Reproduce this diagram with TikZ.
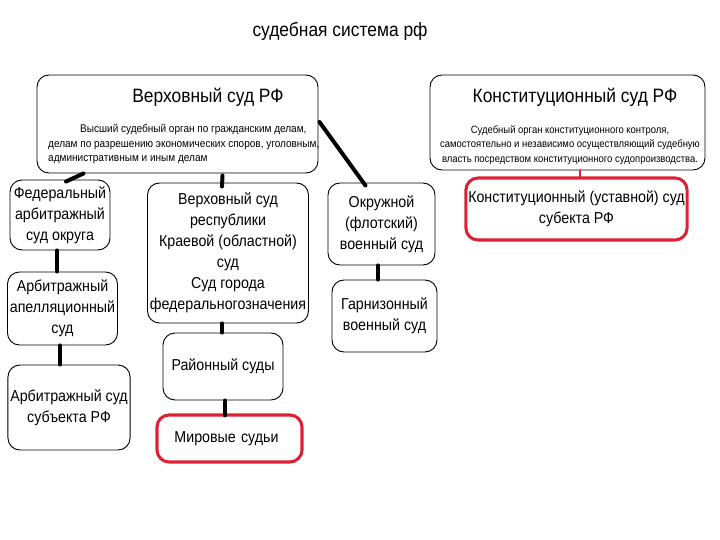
\documentclass[tikz,border=0pt]{standalone}
\usepackage{fontspec}
\setmainfont[FakeStretch=0.9]{Liberation Sans}
\usepackage{tikz}
\usetikzlibrary{calc}
\definecolor{courtred}{RGB}{222,32,52}

\begin{document}
\begin{tikzpicture}[x=0.03cm,y=-0.03cm,
	court/.style={draw,rounded corners=0.36cm,line width=0.8pt,inner sep=2pt,align=center,
		font=\fontsize{13.5}{18}\selectfont},
	redcourt/.style={court,draw=courtred,line width=2.6pt},
	link/.style={line width=3.4pt,line cap=round}]

	% all positions are given in pixels of the 720 x 540 page
	\useasboundingbox (0,0) rectangle (720,540);

	\node (title) at (340,31) {\fontsize{16.5}{18}\selectfont судебная система рф};

	% top row: the two highest courts
	\node[court,minimum width=8.43cm,minimum height=2.94cm] (sup) at (177.5,124) {};
	\node (sup head) at (208,97) {\fontsize{16.5}{18}\selectfont Верховный суд РФ};
	\node[anchor=north west,align=left,inner sep=0pt,font=\fontsize{9.5}{12.4}\selectfont] (sup text) at (48,124)
		{\hspace*{0.96cm}Высший судебный орган по гражданским делам,\\
		делам по разрешению экономических споров, уголовным,\\
		административным и иным делам};

	\node[court,minimum width=8.25cm,minimum height=2.85cm] (konst) at (567.5,122.5) {};
	\node (konst head) at (575,97) {\fontsize{16.5}{18}\selectfont Конституционный суд РФ};
	\node[anchor=north,align=center,inner sep=0pt,font=\fontsize{9}{12.4}\selectfont] (konst text) at (570,125)
		{Судебный орган конституционного контроля,\\
		самостоятельно и независимо осуществляющий судебную\\
		власть посредством конституционного судопроизводства.};

	% arbitration branch
	\node[court,minimum width=3.0cm,minimum height=2.1cm] (fedarb) at (60,215) {Федеральный\\арбитражный\\суд округа};
	\node[court,minimum width=3.15cm,minimum height=2.19cm] (arbapp) at (62.5,308.5) {Арбитражный\\апелляционный\\суд};
	\node[court,minimum width=3.66cm,minimum height=2.55cm] (arbsub) at (69,407.5) {Арбитражный суд\\субъекта РФ};

	% general jurisdiction branch
	\node[court,minimum width=4.8cm,minimum height=4.2cm] (resp) at (228,253)
		{Верховный суд\\республики\\Краевой (областной)\\суд\\Суд города\\федеральногозначения};
	\node[court,minimum width=3.6cm,minimum height=2.01cm] (rayon) at (223,366.5) {Районный суды};
	\node[redcourt,minimum width=4.35cm,minimum height=1.41cm,align=left,text width=3.3cm] (mir) at (229.5,438.5) {Мировые судьи};

	% military branch
	\node[court,minimum width=3.21cm,minimum height=2.46cm] (okr) at (381.5,224) {Окружной\\(флотский)\\военный суд};
	\node[court,minimum width=3.15cm,minimum height=2.16cm] (garn) at (384.5,316) {Гарнизонный\\военный суд};

	% constitutional branch
	\node[redcourt,minimum width=6.57cm,minimum height=1.86cm] (ksub) at (576.5,209) {Конституционный (уставной) суд\\субекта РФ};

	% connectors
	\draw[link] ($(sup.south west)+(47,0)$) -- ($(fedarb.north)+(6,2)$);
	\draw[link] ($(sup.south)+(45,2)$) -- ($(resp.north)+(-6,4)$);
	\draw[link] ($(sup.east)+(1,-2)$) -- ($(okr.north)+(-16,3)$);
	\draw[link] ($(fedarb.south)+(-3,0)$) -- ($(arbapp.north)+(-5.5,0)$);
	\draw[link] ($(arbapp.south)+(-2.5,0)$) -- ($(arbsub.north)+(-9,0)$);
	\draw[link] ($(resp.south)+(-6,0)$) -- ($(rayon.north)+(-1,0)$);
	\draw[link] ($(rayon.south)+(2,0)$) -- ($(mir.north)+(-4.5,2)$);
	\draw[link] ($(okr.south)+(-3.5,0)$) -- ($(garn.north)+(-6.5,0)$);
	\draw[link,courtred,line width=2pt] ($(konst.south)+(12.5,0)$) -- ($(ksub.north)+(3.5,0)$);

\end{tikzpicture}
\end{document}
